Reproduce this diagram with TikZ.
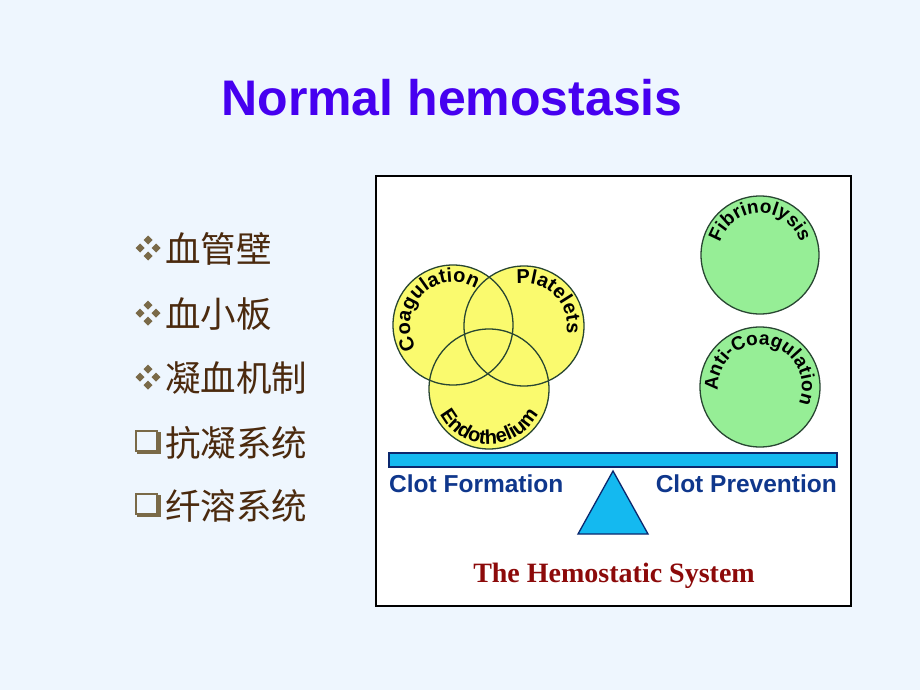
\documentclass[tikz,border=0pt]{standalone}
\usepackage{fontspec}
\setmainfont{Liberation Sans}
\newfontfamily\serifbold{Liberation Serif}
\newfontfamily\cjk{Noto Sans CJK SC}
\usetikzlibrary{decorations.text,calc}
\definecolor{bg}{RGB}{238,246,254}
\definecolor{titleblue}{RGB}{70,0,240}
\definecolor{bullettxt}{RGB}{75,42,14}
\definecolor{bulletmark}{RGB}{122,106,72}
\definecolor{vennfill}{RGB}{250,250,110}
\definecolor{greenfill}{RGB}{150,238,150}
\definecolor{ringline}{RGB}{40,70,50}
\definecolor{beamfill}{RGB}{20,185,240}
\definecolor{beamline}{RGB}{12,40,110}
\definecolor{clotblue}{RGB}{15,55,140}
\definecolor{sysred}{RGB}{140,10,10}
\tikzset{
  vennshape/.style={fill=vennfill},
  greenshape/.style={fill=greenfill},
  ringstroke/.style={draw=ringline,line width=1.3pt},
  beamstyle/.style={fill=beamfill,draw=beamline,line width=1.3pt},
  cjkline/.style={anchor=west,text=bullettxt,font=\cjk\fontsize{35.5}{38}\selectfont,inner sep=0pt},
  clotlabel/.style={text=clotblue,font=\bfseries\fontsize{24.5}{26}\selectfont,inner sep=0pt},
  diamondmark/.style={fill=bulletmark},
}
\newcommand{\arclabel}[6]{%
  \path[decorate,decoration={text along path,text align=center,
    text={|\bfseries\fontsize{#6}{#6}\selectfont|#5}}]
    (#1) ++(#3:#2) arc[start angle=#3,end angle=#4,radius=#2];}
\newcommand{\diamondbullet}[1]{%
  \foreach \dx/\dy in {0/8,-8/0,8/0,0/-8}{
    \fill[diamondmark] ($(#1)+(\dx,\dy)$) +(0,4.5) -- +(4.5,0) -- +(0,-4.5) -- +(-4.5,0) -- cycle;}}
\newcommand{\squarebullet}[1]{%
  \fill[bulletmark] ($(#1)+(-11,-12)$) rectangle ($(#1)+(13,10)$);
  \fill[bg,draw=bulletmark,line width=1.2pt] ($(#1)+(-12,11)$) rectangle ($(#1)+(9,-9)$);}
\begin{document}
\begin{tikzpicture}[x=1pt,y=1pt]
\useasboundingbox (0,0) rectangle (920,-690);
\fill[bg] (0,0) rectangle (920,-690);
% title
\node[anchor=base,text=titleblue,font=\bfseries\fontsize{50}{55}\selectfont,inner sep=0pt] (title) at (452,-115) {Normal hemostasis};
% bullets
\coordinate (b1) at (148,-248);
\coordinate (b2) at (148,-313);
\coordinate (b3) at (148,-377);
\coordinate (b4) at (148,-442);
\coordinate (b5) at (148,-505);
\diamondbullet{b1}
\diamondbullet{b2}
\diamondbullet{b3}
\squarebullet{b4}
\squarebullet{b5}
\node[cjkline] (t1) at (165,-249) {血管壁};
\node[cjkline] (t2) at (165,-314) {血小板};
\node[cjkline] (t3) at (165,-378) {凝血机制};
\node[cjkline] (t4) at (165,-443) {抗凝系统};
\node[cjkline] (t5) at (165,-506) {纤溶系统};
% frame
\draw[fill=white,line width=1.5pt] (376,-176) rectangle (851,-606);
% circles
\coordinate (coag) at (453,-325);
\coordinate (plat) at (524,-326);
\coordinate (endo) at (489,-389);
\coordinate (fibr) at (760,-255);
\coordinate (anti) at (760,-387);
\fill[vennshape] (coag) circle[radius=60];
\fill[vennshape] (plat) circle[radius=60];
\fill[vennshape] (endo) circle[radius=60];
\draw[ringstroke] (coag) circle[radius=60];
\draw[ringstroke] (plat) circle[radius=60];
\draw[ringstroke] (endo) circle[radius=60];
\filldraw[greenshape,ringstroke] (fibr) circle[radius=59];
\filldraw[greenshape,ringstroke] (anti) circle[radius=60];
\arclabel{coag}{43}{215}{55}{Coagulation}{20}
\arclabel{plat}{43}{110}{-20}{Platelets}{20}
\arclabel{endo}{55}{190}{350}{Endothelium}{20}
\arclabel{fibr}{42}{180}{0}{Fibrinolysis}{19}
\arclabel{anti}{42}{200}{-38}{Anti-Coagulation}{19}
% balance
\draw[beamstyle] (389,-453) rectangle (837,-467);
\coordinate (apex) at (613,-471);
\draw[beamstyle] (apex) -- (648,-534) -- (578,-534) -- cycle;
\node[clotlabel,anchor=base west] (cf) at (389,-492) {Clot Formation};
\node[clotlabel,anchor=base east] (cp) at (837,-492) {Clot Prevention};
\node[anchor=base,text=sysred,font=\serifbold\bfseries\fontsize{28}{30}\selectfont,inner sep=0pt] (sys) at (614,-582) {The Hemostatic System};
\end{tikzpicture}
\end{document}
